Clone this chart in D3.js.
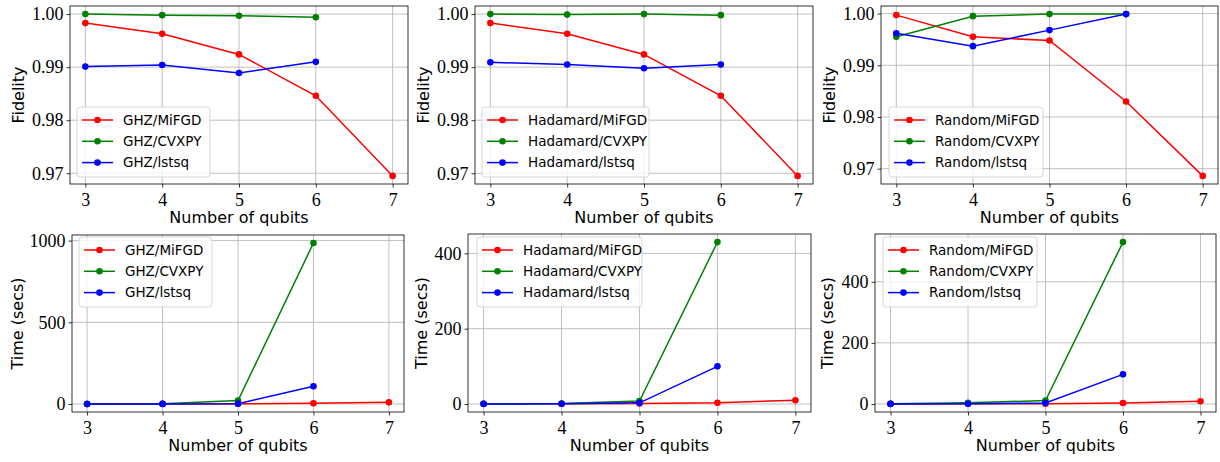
<!DOCTYPE html>
<html>
<head>
<meta charset="utf-8">
<script src="https://cdn.jsdelivr.net/npm/d3@7/dist/d3.min.js"></script>
<style>
  body { margin: 0; background: #fff; }
  svg { display: block; }
  .tick text { font-family: "Liberation Serif", serif; font-size: 18px; fill: #000; }
  .axis-label { font-family: "DejaVu Sans", sans-serif; font-size: 16px; fill: #000; }
  .legend-text { font-family: "DejaVu Sans", sans-serif; font-size: 13.5px; fill: #000; }
</style>
</head>
<body>
<svg id="chart" width="1220" height="462"></svg>
<script>
(function () {
  'use strict';

  const qubits = [3, 4, 5, 6, 7];
  const methods = ['MiFGD', 'CVXPY', 'lstsq'];
  const methodColors = ['#ff0000', '#008000', '#0000ff'];
  const stateNames = ['GHZ', 'Hadamard', 'Random'];

  // Fidelity
  const ghzFidMiFGD = [0.9983, 0.9963, 0.9924, 0.9846, 0.9695];
  const ghzFidCVXPY = [1.0000, 0.9998, 0.9997, 0.9994];
  const ghzFidLstsq = [0.9901, 0.9904, 0.9889, 0.9910];
  const hadFidMiFGD = [0.9983, 0.9963, 0.9924, 0.9846, 0.9695];
  const hadFidCVXPY = [1.0000, 0.9999, 1.0000, 0.9998];
  const hadFidLstsq = [0.9909, 0.9905, 0.9898, 0.9905];
  const rndFidMiFGD = [0.9997, 0.9955, 0.9948, 0.9830, 0.9686];
  const rndFidCVXPY = [0.9955, 0.9995, 0.9999, 0.9999];
  const rndFidLstsq = [0.9962, 0.9937, 0.9968, 0.9999];

  // Time in seconds, bottom row
  const ghzTimeMiFGD = [0.3, 0.6, 1.5, 4, 10];
  const ghzTimeCVXPY = [0.5, 1.5, 21, 985];
  const ghzTimeLstsq = [0.2, 0.4, 2, 108];
  const hadTimeMiFGD = [0.3, 0.6, 1, 3, 10];
  const hadTimeCVXPY = [0.5, 1, 8, 430];
  const hadTimeLstsq = [0.2, 0.4, 3, 100];
  const rndTimeMiFGD = [0.3, 0.6, 1, 3, 9];
  const rndTimeCVXPY = [0.5, 4, 11, 530];
  const rndTimeLstsq = [0.2, 0.4, 3, 97];

  const fidTicks = [0.97, 0.98, 0.99, 1.00];
  const timeTicksGHZ = [0, 500, 1000];
  const timeTicksOther = [0, 200, 400];

  const panels = [
    { state: 0, ylabel: 'Fidelity', series: [ghzFidMiFGD, ghzFidCVXPY, ghzFidLstsq], yticks: fidTicks, fmt: '.2f',
      box: [70, 6, 408, 184], labelX: 24, legend: [77, 107, 133] },
    { state: 1, ylabel: 'Fidelity', series: [hadFidMiFGD, hadFidCVXPY, hadFidLstsq], yticks: fidTicks, fmt: '.2f',
      box: [475, 6, 813, 184], labelX: 429, legend: [482, 107, 167] },
    { state: 2, ylabel: 'Fidelity', series: [rndFidMiFGD, rndFidCVXPY, rndFidLstsq], yticks: fidTicks, fmt: '.2f',
      box: [881, 6, 1218, 184], labelX: 835, legend: [889, 107, 154] },
    { state: 0, ylabel: 'Time (secs)', series: [ghzTimeMiFGD, ghzTimeCVXPY, ghzTimeLstsq], yticks: timeTicksGHZ, fmt: 'd',
      box: [72, 235, 404, 412], labelX: 23, legend: [79, 237, 133] },
    { state: 1, ylabel: 'Time (secs)', series: [hadTimeMiFGD, hadTimeCVXPY, hadTimeLstsq], yticks: timeTicksOther, fmt: 'd',
      box: [468, 234, 811, 412], labelX: 427, legend: [477, 237, 165] },
    { state: 2, ylabel: 'Time (secs)', series: [rndTimeMiFGD, rndTimeCVXPY, rndTimeLstsq], yticks: timeTicksOther, fmt: 'd',
      box: [875, 234, 1216, 412], labelX: 833, legend: [883, 237, 154] }
  ];

  const svg = d3.select('#chart');

  // matplotlib-style 5% margins around the data extent
  function padded(lo, hi) {
    const m = (hi - lo) * 0.05;
    return [lo - m, hi + m];
  }

  panels.forEach(drawPanel);

  function drawPanel(p) {
    const [x0, y0, x1, y1] = p.box;
    const all = p.series.flat();
    const x = d3.scaleLinear().domain(padded(d3.min(qubits), d3.max(qubits))).range([x0, x1]);
    const y = d3.scaleLinear().domain(padded(d3.min(all), d3.max(all))).range([y1, y0]);

    const g = svg.append('g');

    // grid
    g.append('g').selectAll('line.vg').data(qubits).join('line')
      .attr('x1', d => x(d)).attr('x2', d => x(d)).attr('y1', y0).attr('y2', y1)
      .attr('stroke', '#b0b0b0').attr('stroke-width', 0.8);
    g.append('g').selectAll('line.hg').data(p.yticks).join('line')
      .attr('x1', x0).attr('x2', x1).attr('y1', d => y(d)).attr('y2', d => y(d))
      .attr('stroke', '#b0b0b0').attr('stroke-width', 0.8);

    // axes
    const xAxis = g.append('g').attr('transform', `translate(0,${y1})`)
      .call(d3.axisBottom(x).tickValues(qubits).tickFormat(d3.format('d')).tickSize(3.5).tickPadding(3));
    const yAxis = g.append('g').attr('transform', `translate(${x0},0)`)
      .call(d3.axisLeft(y).tickValues(p.yticks).tickFormat(d3.format(p.fmt)).tickSize(3.5).tickPadding(3));
    [xAxis, yAxis].forEach(a => {
      a.select('.domain').remove();
      a.selectAll('.tick line').attr('stroke', '#000').attr('stroke-width', 0.8);
    });
    xAxis.selectAll('.tick text').attr('dy', '0.85em');

    // series
    const line = d3.line().x((d, i) => x(qubits[i])).y(d => y(d));
    p.series.forEach((vals, k) => {
      g.append('path').datum(vals)
        .attr('d', line).attr('fill', 'none')
        .attr('stroke', methodColors[k]).attr('stroke-width', 1.5);
      g.append('g').selectAll('circle').data(vals).join('circle')
        .attr('cx', (d, i) => x(qubits[i])).attr('cy', d => y(d)).attr('r', 3.3)
        .attr('fill', methodColors[k]);
    });

    // frame
    g.append('rect').attr('x', x0).attr('y', y0).attr('width', x1 - x0).attr('height', y1 - y0)
      .attr('fill', 'none').attr('stroke', '#000').attr('stroke-width', 0.8);

    // labels
    g.append('text').attr('class', 'axis-label')
      .attr('x', (x0 + x1) / 2).attr('y', y1 + 39).attr('text-anchor', 'middle')
      .text('Number of qubits');
    g.append('text').attr('class', 'axis-label')
      .attr('transform', `translate(${p.labelX},${(y0 + y1) / 2}) rotate(-90)`)
      .attr('text-anchor', 'middle')
      .text(p.ylabel);

    // legend
    const [lx, ly, lw] = p.legend;
    const lg = g.append('g').attr('transform', `translate(${lx},${ly})`);
    lg.append('rect').attr('width', lw).attr('height', 70).attr('rx', 3)
      .attr('fill', '#fff').attr('fill-opacity', 0.8)
      .attr('stroke', '#cccccc').attr('stroke-width', 0.8);
    methods.forEach((m, k) => {
      const cy = 13 + k * 21.3;
      lg.append('line').attr('x1', 5).attr('x2', 36).attr('y1', cy).attr('y2', cy)
        .attr('stroke', methodColors[k]).attr('stroke-width', 1.5);
      lg.append('circle').attr('cx', 20.5).attr('cy', cy).attr('r', 3.3).attr('fill', methodColors[k]);
      lg.append('text').attr('class', 'legend-text')
        .attr('x', 46).attr('y', cy).attr('dy', '0.35em')
        .text(stateNames[p.state] + '/' + m);
    });
  }
})();
</script>
</body>
</html>
